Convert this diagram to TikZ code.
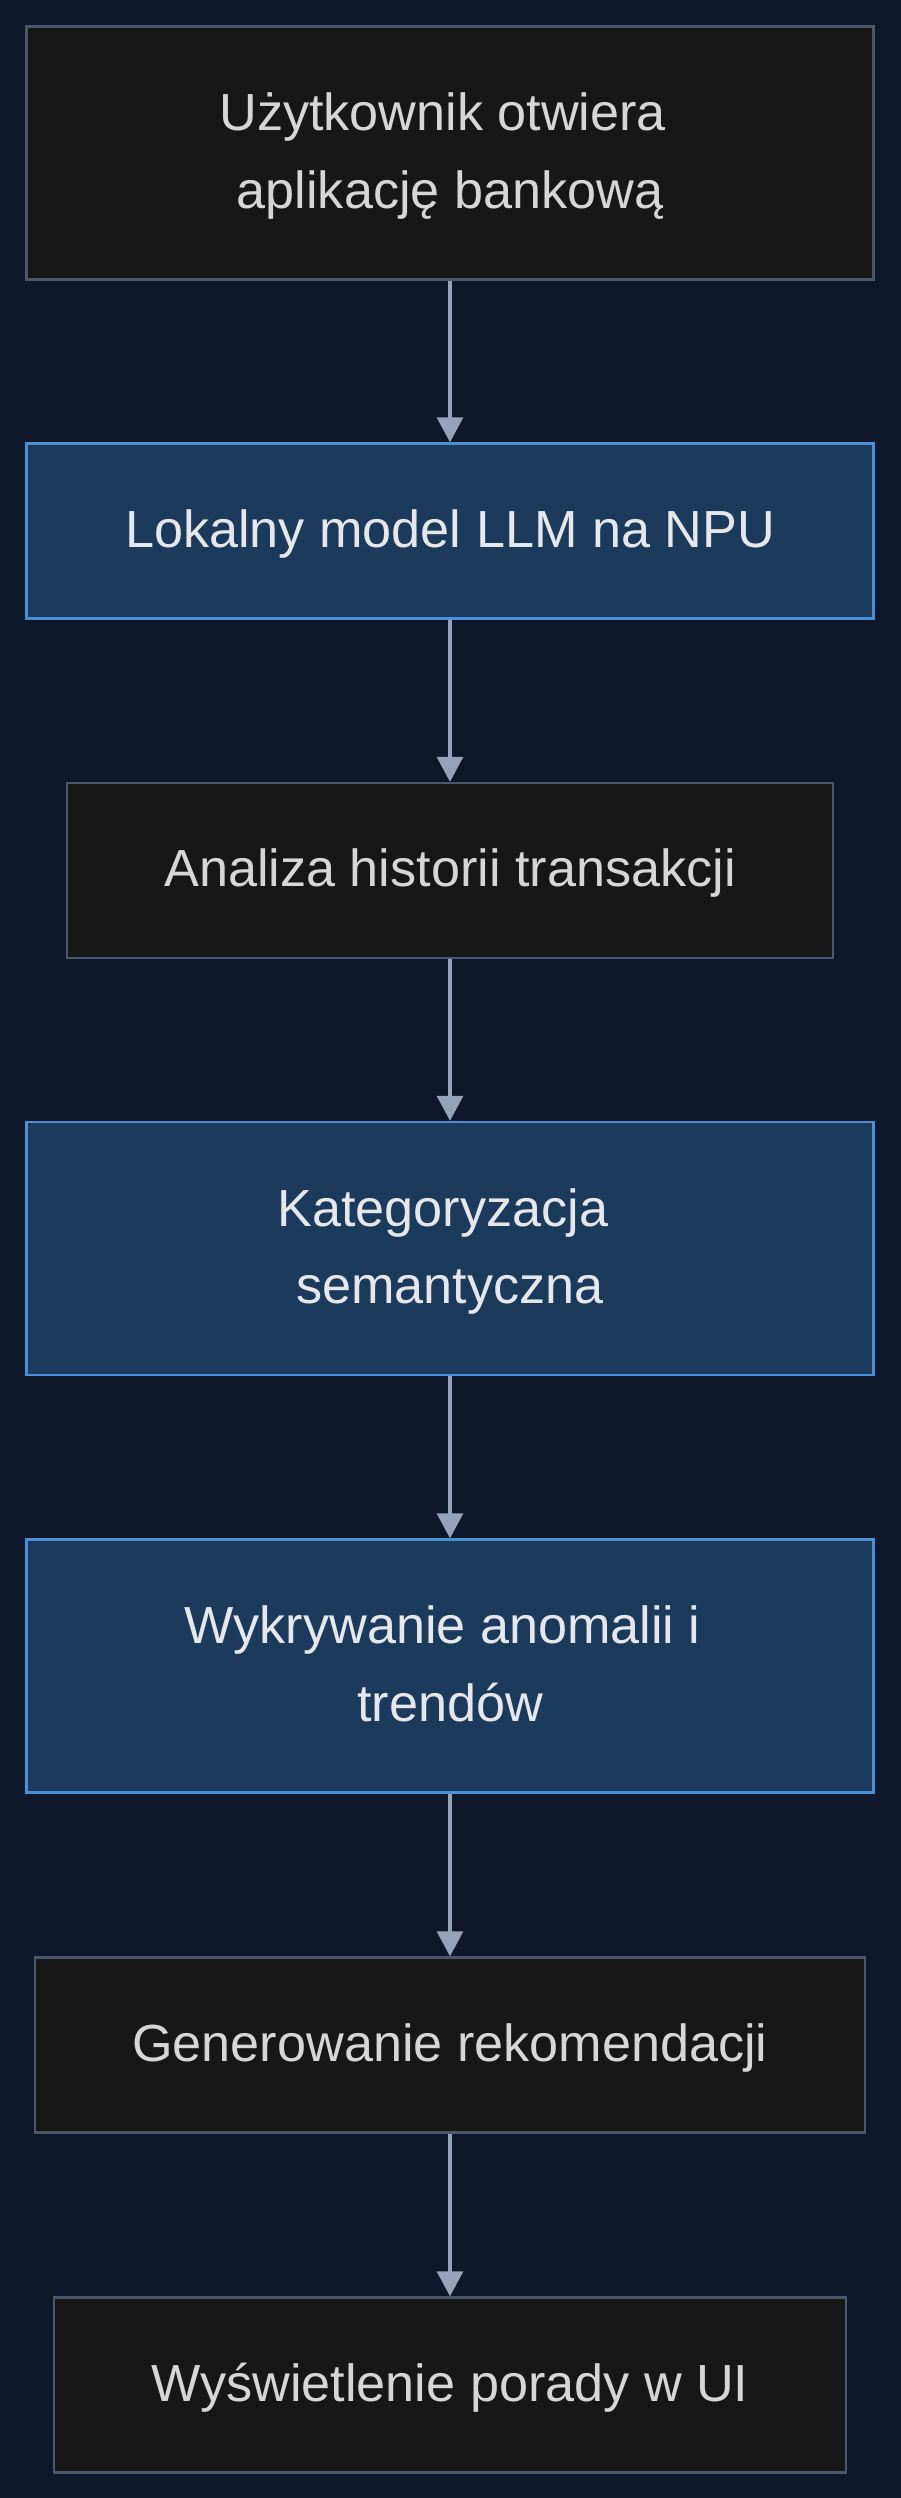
\documentclass[tikz,border=0pt]{standalone}
\usepackage{fontspec}
\setmainfont{Liberation Sans}
\usepackage{tikz}
\usetikzlibrary{arrows.meta}
\usetikzlibrary{calc,backgrounds}
\definecolor{navy0} {RGB} {15, 23, 42}
\definecolor{dark1} {RGB} {23, 23, 23}
\definecolor{slate5} {RGB} {75, 88, 108}
\definecolor{blue6} {RGB} {27, 58, 92}
\definecolor{blue4} {RGB} {74, 144, 217}
\definecolor{slate3} {RGB} {148, 163, 184}
\definecolor{grey2} {RGB} {214, 214, 214}
\definecolor{grey1} {RGB} {229, 231, 235}
\newcommand{\linestrut}{\rule[-0.324em]{0pt}{1.274em}}
\tikzstyle{flow}=[
  x=0.5pt, y=0.5pt, >={Triangle[width=13pt,length=12.5pt]},
  font=\fontsize{26.1pt}{38.75pt}\selectfont
]
\tikzstyle{flownode}=[
  draw, line width=1.2pt, inner sep=0pt, align=center, minimum height=87.5pt
]
\tikzstyle{flowdark}=[
  flownode, fill=dark1, draw=slate5, text=grey2
]
\tikzstyle{flowblue}=[
  flownode, fill=blue6, draw=blue4, text=grey1
]
\tikzstyle{flowtall}=[
  minimum height=126.5pt
]
\tikzstyle{flowedge}=[
  line width=1.6pt, draw=slate3, fill=slate3, ->
]

\begin{document}
\begin{tikzpicture}[flow]
    \useasboundingbox (0,0) rectangle (900,-2498);
    \node (open) [flowdark, flowtall, minimum width=423.5pt] at (450, -153)
        {\linestrut Użytkownik otwiera\kern.278em\\\linestrut aplikację bankową};
    \node (llm) [flowblue, minimum width=423.5pt] at ($(open) + (0, -378)$)
        {\linestrut Lokalny model LLM na NPU};
    \node (hist) [flowdark, minimum width=383pt] at ($(llm) + (0, -339.5)$)
        {\linestrut Analiza historii transakcji};
    \node (cat) [flowblue, flowtall, minimum width=423.5pt] at ($(hist) + (0, -378)$)
        {\linestrut Kategoryzacja\kern.278em\\\linestrut semantyczna};
    \node (anom) [flowblue, flowtall, minimum width=423.5pt] at ($(cat) + (0, -417.5)$)
        {\linestrut Wykrywanie anomalii i\kern.278em\\\linestrut trendów};
    \node (rec) [flowdark, minimum width=415pt] at ($(anom) + (0, -379)$)
        {\linestrut Generowanie rekomendacji};
    \node (ui) [flowdark, minimum width=396pt] at ($(rec) + (0, -340)$)
        {\linestrut Wyświetlenie porady w UI};
    \begin{scope}[on background layer]
    \fill [navy0] (-20,20) rectangle (920,-2518);
    \draw [flowedge] (open) -- (llm);
    \draw [flowedge] (llm) -- (hist);
    \draw [flowedge] (hist) -- (cat);
    \draw [flowedge] (cat) -- (anom);
    \draw [flowedge] (anom) -- (rec);
    \draw [flowedge] (rec) -- (ui);
    \end{scope}
\end{tikzpicture}
\end{document}
